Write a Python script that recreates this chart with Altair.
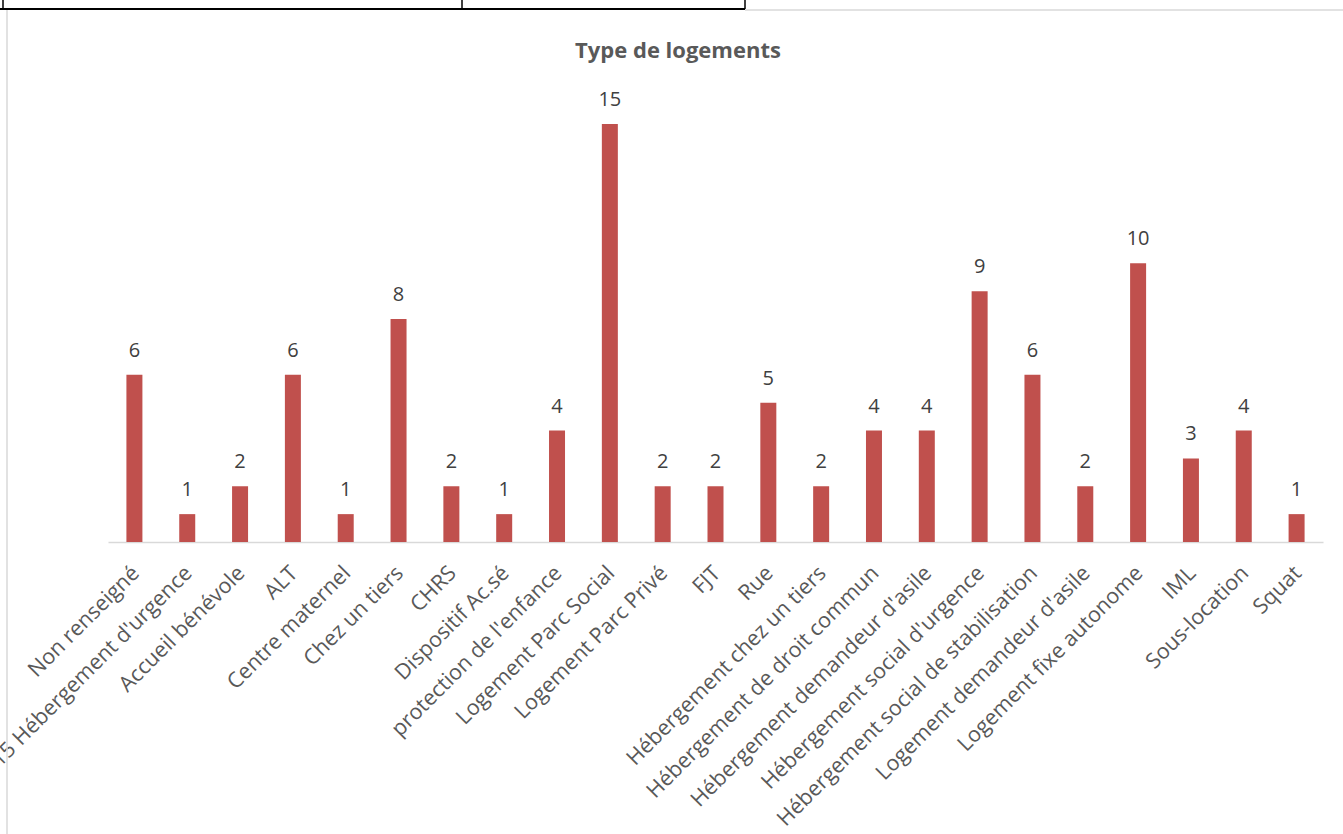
import altair as alt
import pandas as pd

categories = [
    "Non renseigné", "115 Hébergement d'urgence", "Accueil bénévole", "ALT",
    "Centre maternel", "Chez un tiers", "CHRS", "Dispositif Ac.sé",
    "protection de l'enfance", "Logement Parc Social", "Logement Parc Privé",
    "FJT", "Rue", "Hébergement chez un tiers", "Hébergement de droit commun",
    "Hébergement demandeur d'asile", "Hébergement social d'urgence",
    "Hébergement social de stabilisation", "Logement demandeur d'asile",
    "Logement fixe autonome", "IML", "Sous-location", "Squat",
]
values = [6, 1, 2, 6, 1, 8, 2, 1, 4, 15, 2, 2, 5, 2, 4, 4, 9, 6, 2, 10, 3, 4, 1]
title_text = "Type de logements"

df = pd.DataFrame({"cat": categories, "n": values})

FONT = "Open Sans"

x = alt.X("cat:N", sort=categories, title=None,
          scale=alt.Scale(paddingInner=0.69, paddingOuter=0.345),
          axis=alt.Axis(labelAngle=-45, labelFontSize=21.5, labelColor="#595959",
                        labelFont=FONT, ticks=False, domainColor="#D9D9D9",
                        domainWidth=1.5, labelPadding=20, labelOffset=-6,
                        labelLimit=0, grid=False))
y = alt.Y("n:Q", scale=alt.Scale(domain=[0, 16]), axis=None)

bars = alt.Chart(df).mark_bar(color="#C0504D", size=16).encode(x=x, y=y)
labels = alt.Chart(df).mark_text(fontSize=20, font=FONT, color="#404040",
                                 baseline="alphabetic", dy=-18).encode(
    x=alt.X("cat:N", sort=categories), y="n:Q", text="n:Q")

deco = alt.Data(values=[{"k": 1}])
title = alt.Chart(deco).mark_text(fontSize=22, font=FONT, fontWeight="bold",
                                  color="#595959", baseline="middle").encode(
    x=alt.value(570), y=alt.value(-45), text=alt.value(title_text))
top_black = alt.Chart(deco).mark_rule(color="black", strokeWidth=2).encode(
    x=alt.value(-108), x2=alt.value(637), y=alt.value(-87))
v1 = alt.Chart(deco).mark_rule(color="black", strokeWidth=1.5).encode(
    x=alt.value(-105), y=alt.value(-96), y2=alt.value(-87))
v2 = alt.Chart(deco).mark_rule(color="black", strokeWidth=1.5).encode(
    x=alt.value(354), y=alt.value(-96), y2=alt.value(-87))
v3 = alt.Chart(deco).mark_rule(color="black", strokeWidth=1.5).encode(
    x=alt.value(637), y=alt.value(-96), y2=alt.value(-87))
top_gray = alt.Chart(deco).mark_rule(color="#D9D9D9", strokeWidth=1.5).encode(
    x=alt.value(637), x2=alt.value(1235), y=alt.value(-86))
left_gray = alt.Chart(deco).mark_rule(color="#D9D9D9", strokeWidth=1.5).encode(
    x=alt.value(-101), y=alt.value(-86), y2=alt.value(738))

chart = alt.layer(bars, labels, title, top_black, v1, v2, v3, top_gray, left_gray).properties(
    width=1215, height=446,
    padding={"left": 108, "top": 96, "right": 20, "bottom": 292},
    autosize=alt.AutoSizeParams(type="none"),
    background="white",
).configure_view(stroke=None)

chart.save("out.html", embed_options={"renderer": "svg", "actions": False})
